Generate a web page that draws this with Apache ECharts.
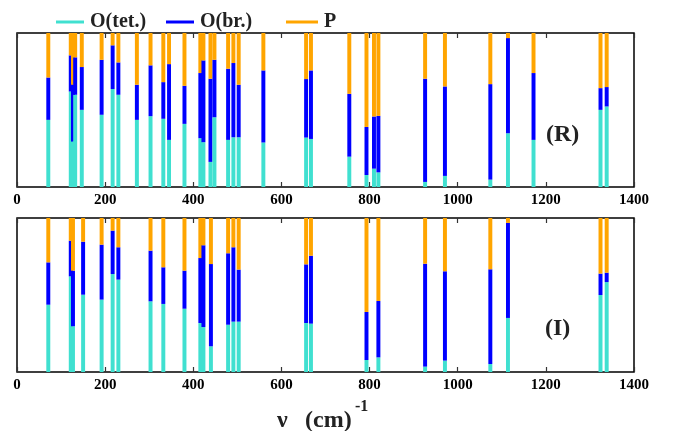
<!DOCTYPE html>
<html><head><meta charset="utf-8">
<script src="https://cdn.jsdelivr.net/npm/echarts@6/dist/echarts.min.js"></script>
<style>html,body{margin:0;padding:0;background:#fff}#c{width:675px;height:431px}</style>
</head><body><div id="c"></div>
<script>
// Panel (R)
const freqR = [71,122,127,132,147,192,217,230,272,303,332,345,380,416,423,439,448,479,491,503,559,656,667,754,793,810,820,926,971,1074,1114,1172,1324,1338];
const tetR  = [.436,.620,.295,.599,.501,.469,.636,.599,.436,.460,.443,.306,.410,.317,.291,.163,.453,.306,.323,.323,.289,.321,.312,.197,.078,.119,.095,.033,.072,.048,.349,.306,.501,.523];
const brR   = [.275,.235,.369,.243,.278,.357,.284,.210,.228,.330,.238,.492,.247,.423,.531,.540,.373,.462,.482,.341,.468,.380,.445,.408,.312,.339,.367,.670,.581,.620,.618,.434,.141,.126];
const pR    = [.289,.145,.336,.158,.221,.174,.080,.191,.336,.210,.319,.202,.343,.260,.178,.297,.174,.232,.195,.336,.243,.299,.243,.395,.610,.542,.538,.297,.347,.332,.033,.260,.358,.351];
// Panel (I)
const freqI = [71,122,127,150,192,217,230,303,332,380,416,423,440,479,491,503,656,667,793,820,926,971,1074,1114,1324,1338];
const tetI  = [.437,.621,.297,.502,.470,.636,.600,.459,.442,.411,.318,.292,.167,.307,.327,.327,.318,.314,.078,.095,.035,.074,.052,.351,.500,.584];
const brI   = [.275,.232,.361,.344,.357,.282,.210,.329,.238,.247,.422,.531,.534,.464,.483,.338,.381,.441,.312,.366,.668,.580,.615,.617,.139,.061];
const pI    = [.288,.147,.342,.154,.173,.082,.190,.212,.320,.342,.260,.177,.299,.229,.190,.335,.301,.245,.610,.539,.297,.346,.333,.032,.361,.355];
const xTicks = [0,200,400,600,800,1000,1200,1400];
const seriesNames = ['O(tet.)','O(br.)','P'];
const colors = ['#40E0D0','#0000FF','#FFA500'];
const barW = 9; // in cm^-1

const chart = echarts.init(document.getElementById('c'));
const font = 'Liberation Serif';

function rows(f,t,b,p){ return f.map((v,i)=>[v,t[i],b[i],p[i]]); }
function renderItem(params, api){
  const x = api.value(0), t = api.value(1), b = api.value(2), p = api.value(3);
  const w = api.size([barW,0])[0];
  const p0 = api.coord([x,0]), p1 = api.coord([x,t]), p2 = api.coord([x,t+b]), p3 = api.coord([x,t+b+p]);
  const L = p0[0]-w/2;
  return {type:'group', children:[
    {type:'rect', shape:{x:L,y:p1[1],width:w,height:p0[1]-p1[1]}, style:{fill:colors[0]}},
    {type:'rect', shape:{x:L,y:p2[1],width:w,height:p1[1]-p2[1]}, style:{fill:colors[1]}},
    {type:'rect', shape:{x:L,y:p3[1],width:w,height:p2[1]-p3[1]}, style:{fill:colors[2]}}
  ]};
}
const grids = [
  {left:17, top:33, width:617, height:154, show:true, borderColor:'#000', borderWidth:1.5, backgroundColor:'#fff'},
  {left:17, top:218, width:617, height:154, show:true, borderColor:'#000', borderWidth:1.5, backgroundColor:'#fff'}
];
function xAxisFor(g, pos, labels){
  return {type:'value', gridIndex:g, position:pos, min:0, max:1400, interval:200,
    axisLine:{show:false}, splitLine:{show:false},
    axisTick:{show:true, inside:true, length:5, lineStyle:{color:'#333', width:1.2}},
    axisLabel:{show:labels, margin:6, color:'#000', fontFamily:font, fontWeight:'bold', fontSize:15,
      formatter:v=>xTicks.includes(v)?String(v):''}};
}
const option = {
  animation:false,
  backgroundColor:'#fff',
  grid:grids,
  legend: seriesNames.map((n,i)=>({
    data:[n], left:[56,166,286][i], top:12, padding:0, itemWidth:[28,28,32][i], itemHeight:3, icon:'rect', itemGap:0,
    textStyle:{fontFamily:font, fontWeight:'bold', fontSize:20, color:'#222', padding:[0,0,0,1]}
  })),
  xAxis:[xAxisFor(0,'bottom',true), xAxisFor(0,'top',false), xAxisFor(1,'bottom',true), xAxisFor(1,'top',false)],
  yAxis:[{type:'value',gridIndex:0,min:0,max:1,show:false},{type:'value',gridIndex:1,min:0,max:1,show:false}],
  series:[
    ...seriesNames.map((n,i)=>({type:'line', name:n, data:[], color:colors[i], xAxisIndex:0, yAxisIndex:0})),
    {type:'custom', xAxisIndex:0, yAxisIndex:0, renderItem, clip:true, data:rows(freqR,tetR,brR,pR), z:3},
    {type:'custom', xAxisIndex:2, yAxisIndex:1, renderItem, clip:true, data:rows(freqI,tetI,brI,pI), z:3}
  ],
  graphic:[
    {type:'text', left:546, top:123, z:10, style:{text:'(R)', font:'bold 24px "Liberation Serif"', fill:'#222'}},
    {type:'text', left:545, top:317, z:10, style:{text:'(I)', font:'bold 24px "Liberation Serif"', fill:'#222'}},
    {type:'text', left:277, top:409, z:10, style:{text:'ν', font:'bold 24px "Liberation Serif"', fill:'#222'}},
    {type:'text', left:305, top:409, z:10, style:{text:'(cm)', font:'bold 24px "Liberation Serif"', fill:'#222'}},
    {type:'text', left:355, top:399, z:10, style:{text:'-1', font:'bold 16px "Liberation Serif"', fill:'#222'}}
  ]
};
chart.setOption(option);
</script></body></html>
